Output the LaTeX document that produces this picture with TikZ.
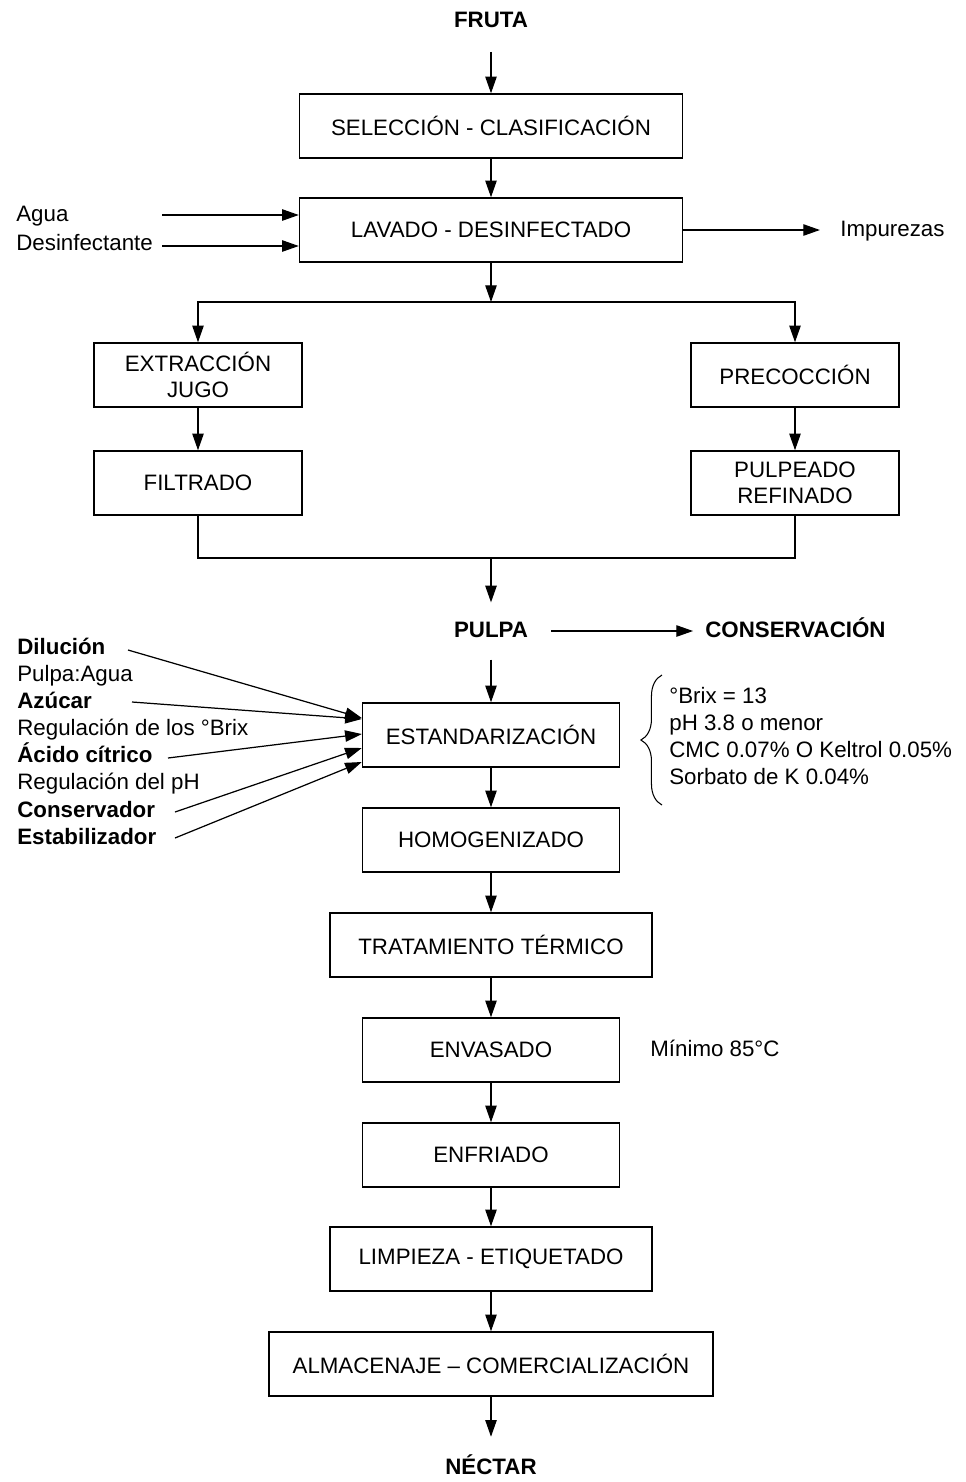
\documentclass[tikz,border=0pt]{standalone}
\usepackage{fontspec}
\setmainfont{Liberation Sans}
\usetikzlibrary{arrows.meta,calc,decorations.pathreplacing}
\newcommand\fsz{\fontsize{12.7}{15}\selectfont}
\tikzset{
	box/.style={draw, line width=0.85pt, minimum height=1.28cm, inner sep=2pt, align=center, font=\fsz},
	lbl/.style={inner sep=0pt, text height=0.72em, text depth=0pt, font=\fsz},
	blbl/.style={lbl, font=\fsz\bfseries},
	arr/.style={line width=0.7pt, -{Triangle[length=9.5pt,width=6.5pt]}},
	ln/.style={line width=0.7pt},
}

\begin{document}
\begin{tikzpicture}[x=0.02cm, y=-0.02cm]
			%%%%% START %%%%%
			\useasboundingbox (0,0) rectangle (966,1482);
			
			\node[blbl] (fruta) at (491,21) {FRUTA};
			\node[box, minimum width=7.66cm] (sel) at (491,126) {SELECCIÓN - CLASIFICACIÓN};
			\node[box, minimum width=7.66cm] (lav) at (491,230) {LAVADO - DESINFECTADO};
			
			\node[lbl, anchor=west] (agua) at (16,215) {Agua};
			\node[lbl, anchor=west] (des) at (16,244) {Desinfectante};
			\node[lbl, anchor=west] (imp) at (840,230) {Impurezas};
			\coordinate (agua-in) at (162,215);
			\coordinate (des-in) at (162,246);
			
			\node[box, minimum width=4.16cm] (ext) at (198,375) {EXTRACCIÓN\\JUGO};
			\node[box, minimum width=4.16cm] (pre) at (795,375) {PRECOCCIÓN};
			\node[box, minimum width=4.16cm] (fil) at (198,483) {FILTRADO};
			\node[box, minimum width=4.16cm] (pul) at (795,483) {PULPEADO\\REFINADO};
			\coordinate (spl) at (491,302);
			\coordinate (mrg) at (491,558);
			
			\node[blbl] (pulpa) at (491,631) {PULPA};
			\node[blbl, anchor=west] (cons) at (705,631) {CONSERVACIÓN};
			
			\node[box, minimum width=5.14cm] (est) at (491,735) {ESTANDARIZACIÓN};
			\node[box, minimum width=5.14cm] (hom) at (491,840) {HOMOGENIZADO};
			\node[box, minimum width=6.44cm] (tra) at (491,945) {TRATAMIENTO TÉRMICO};
			\node[box, minimum width=5.14cm] (env) at (491,1050) {ENVASADO};
			\node[box, minimum width=5.14cm] (enf) at (491,1155) {ENFRIADO};
			\node[box, minimum width=6.44cm] (lim) at (491,1259) {LIMPIEZA - ETIQUETADO};
			\node[box, minimum width=8.88cm] (alm) at (491,1364) {ALMACENAJE – COMERCIALIZACIÓN};
			\node[blbl] (nec) at (491,1468) {NÉCTAR};
			
			\node[lbl, anchor=west] (min) at (650,1050) {Mínimo 85°C};
			
			% insumos de la estandarizacion
			\node[blbl, anchor=west] (dil) at (17,648) {Dilución};
			\node[lbl, anchor=west] (dil-t) at (17,675) {Pulpa:Agua};
			\node[blbl, anchor=west] (azu) at (17,702) {Azúcar};
			\node[lbl, anchor=west] (azu-t) at (17,729) {Regulación de los °Brix};
			\node[blbl, anchor=west] (aci) at (17,756) {Ácido cítrico};
			\node[lbl, anchor=west] (aci-t) at (17,783) {Regulación del pH};
			\node[blbl, anchor=west] (con) at (17,811) {Conservador};
			\node[blbl, anchor=west] (stab) at (17,838) {Estabilizador};
			\coordinate (dil-in) at (128,650);
			\coordinate (azu-in) at (132,702);
			\coordinate (aci-in) at (168,758);
			\coordinate (con-in) at (175,812);
			\coordinate (stab-in) at (175,838);
			
			\node[anchor=north west, inner sep=0pt, align=left, font=\fontsize{12.7}{15.4}\selectfont] (brx) at (669,687) {°Brix = 13\\pH 3.8 o menor\\CMC 0.07\% O Keltrol 0.05\%\\Sorbato de K 0.04\%};
			\draw[line width=0.6pt, decorate, decoration={brace, amplitude=12pt}] (662,805) -- (662,675);
			
			% flechas
			\draw[arr, shorten <=13.7pt] (fruta) -- (sel);
			\draw[arr] (sel) -- (lav);
			\draw[arr] (agua-in) -- (agua-in -| lav.west);
			\draw[arr] (des-in) -- (des-in -| lav.west);
			\draw[arr, shorten >=11.4pt] (lav.east) -- (imp.west);
			\draw[arr] (lav) -- (spl);
			\draw[arr] (spl) -| (ext);
			\draw[arr] (spl) -| (pre);
			\draw[arr] (ext) -- (fil);
			\draw[arr] (pre) -- (pul);
			\draw[ln] (fil) |- (mrg) -| (pul);
			\draw[arr, shorten >=12.5pt] (mrg) -- (pulpa);
			\draw[arr, shorten <=13pt, shorten >=6.8pt] (pulpa) -- (cons);
			\draw[arr, shorten <=12.5pt] (pulpa) -- (est);
			
			\draw[arr] (dil-in) -- ($(est.west)+(0,-17)$);
			\draw[arr] (azu-in) -- ($(est.west)+(0,-16)$);
			\draw[arr] (aci-in) -- ($(est.west)+(0,-1)$);
			\draw[arr] (con-in) -- ($(est.west)+(0,13)$);
			\draw[arr] (stab-in) -- ($(est.west)+(0,27)$);
			
			\draw[arr] (est) -- (hom);
			\draw[arr] (hom) -- (tra);
			\draw[arr] (tra) -- (env);
			\draw[arr] (env) -- (enf);
			\draw[arr] (enf) -- (lim);
			\draw[arr] (lim) -- (alm);
			\draw[arr, shorten >=14pt] (alm) -- (nec);
			
			%%%%% END %%%%%
\end{tikzpicture}
\end{document}
